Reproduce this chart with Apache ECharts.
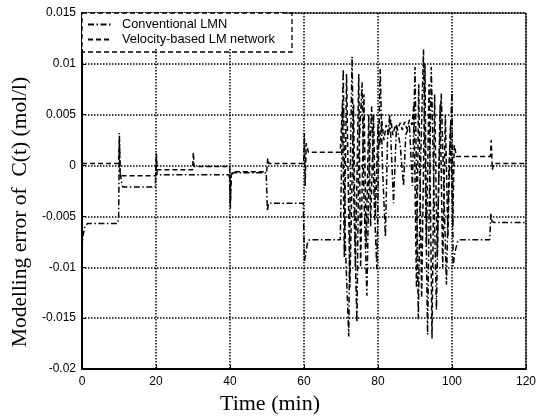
<!DOCTYPE html>
<html><head><meta charset="utf-8">
<script src="https://cdn.jsdelivr.net/npm/echarts@6/dist/echarts.min.js"></script>
<style>html,body{margin:0;padding:0;background:#fff}#c{width:539px;height:419px}</style>
</head><body><div id="c"></div>
<script>
const xTicks = [0, 20, 40, 60, 80, 100, 120];
const yTicks = [-0.02, -0.015, -0.01, -0.005, 0, 0.005, 0.01, 0.015];
const seriesNames = ['Conventional LMN', 'Velocity-based LM network'];
const xTitle = 'Time (min)';
const yTitle = 'Modelling error of  C(t) (mol/l)';

// Conventional LMN (dash-dot)
const convT = [0,0.3,0.8,1.5,9.6,9.9,10,10.1,10.3,10.6,11,19.8,20,20.1,20.3,39.8,40,40.1,40.3,40.8,49.8,50,50.1,50.4,59.8,60,60.1,60.4,61,61.5,69.8,
  70.2,70.6,71.2,72.1,72.6,73,73.5,74.3,74.8,75.7,76.2,77,77.6,78.3,79,79.7,80.2,80.6,81.2,82,82.6,83.2,84.2,85,86,86.9,87.5,88.5,89.3,
  90,90.9,91.5,92.3,93.4,94,94.4,95.8,96.5,97.1,98.5,99.2,100,100.3,100.8,101.5,102,110.2,110.5,110.8,111.5,120];
const convE = [-0.0082,-0.0068,-0.006,-0.0057,-0.0057,-0.0052,-0.0052,0.0032,-0.0005,-0.0015,-0.0021,-0.0021,-0.0021,0.0008,-0.0009,-0.0009,-0.0009,-0.0038,-0.0012,-0.0007,-0.0007,-0.0007,-0.0045,-0.0037,-0.0037,-0.0037,-0.0094,-0.0088,-0.0075,-0.0073,-0.0073,
  -0.0073,0.0095,-0.008,-0.0168,0.002,0.0107,-0.004,-0.0154,0.001,0.0082,-0.003,-0.0128,0.0,0.0058,-0.004,-0.0102,0.002,0.0095,0.0,-0.007,0.003,0.005,-0.0037,0.004,0.002,-0.002,0.003,0.004,-0.002,
  0.0097,-0.0151,0.0,0.0114,-0.0166,0.0,0.0097,-0.0142,0.0,0.0071,-0.0117,0.0,0.0073,-0.0099,-0.0085,-0.0075,-0.0073,-0.0073,-0.0047,-0.0055,-0.0056,-0.0056];

// Velocity-based LM network (dashed)
const velT = [0,9.9,10,10.1,10.3,10.8,19.9,20,20.1,20.3,29.9,30,30.1,30.3,39.9,40,40.1,40.3,40.8,49.9,50,50.2,50.5,59.9,60,60.1,60.3,60.6,61.2,69.8,
  70,70.4,70.9,71.5,72.4,73.4,73.9,74.8,75.3,76.2,76.8,77.5,78,78.8,79.3,80,80.5,81,81.6,82.2,82.8,83.5,84,84.7,85.3,86,86.6,87.2,87.8,88.5,89.2,
  89.7,90.4,91,91.8,92.7,93.1,93.8,94.6,95.3,96,96.8,97.5,98.2,98.9,99.6,100.2,100.6,101.2,110.4,110.6,110.9,111.3,120];
const velE = [0.0002,0.0002,0.0002,0.0025,-0.0008,-0.001,-0.001,-0.001,0.0012,-0.0004,-0.0004,-0.0004,0.0013,-0.0001,-0.0001,-0.0001,-0.0042,-0.0009,-0.0006,-0.0006,-0.0006,0.0007,0.0002,0.0002,0.0002,0.0032,-0.002,0.0022,0.0013,0.0013,
  0.0013,0.006,-0.009,0.009,-0.012,0.006,-0.01,0.009,-0.01,0.007,-0.008,0.005,-0.006,0.005,-0.005,0.004,0.002,0.0045,0.0025,0.004,0.003,0.0045,0.003,0.004,0.0035,0.0042,0.0035,0.0043,0.0036,0.0045,0.004,
  0.006,-0.012,0.008,-0.013,0.01,-0.008,0.008,-0.017,0.007,-0.009,0.006,-0.01,0.005,-0.007,0.004,-0.006,0.002,0.0009,0.0009,0.0025,-0.0004,0.0002,0.0002];

const zip = (a, b) => a.map((t, i) => [t, b[i]]);
const chart = echarts.init(document.getElementById('c'), null, {renderer: 'canvas'});
const tickFont = {fontFamily: 'Liberation Sans, Arial', fontSize: 12, color: '#000'};
const gridLine = {show: true, lineStyle: {color: '#000', type: [1.5, 1.5], width: 1.5}};
chart.setOption({
  animation: false,
  backgroundColor: '#fff',
  grid: {left: 82, right: 11, top: 13, bottom: 50, show: true, borderColor: '#000', borderWidth: 1, backgroundColor: 'transparent'},
  xAxis: {
    type: 'value', min: xTicks[0], max: xTicks[xTicks.length - 1], interval: xTicks[1] - xTicks[0],
    axisLine: {show: true, onZero: false, lineStyle: {color: '#000', width: 2}},
    axisTick: {show: true, inside: true, length: 4, lineStyle: {color: '#000'}},
    axisLabel: Object.assign({margin: 7}, tickFont),
    splitLine: gridLine
  },
  yAxis: {
    type: 'value', min: yTicks[0], max: yTicks[yTicks.length - 1], interval: 0.005,
    axisLine: {show: true, onZero: false, lineStyle: {color: '#000', width: 2}},
    axisTick: {show: true, inside: true, length: 4, lineStyle: {color: '#000'}},
    axisLabel: Object.assign({margin: 6, formatter: v => String(Math.round(v * 1000) / 1000)}, tickFont),
    splitLine: gridLine
  },
  legend: {
    orient: 'vertical', left: 82, top: 13, z: 20,
    padding: [5, 12, 3, 5], itemGap: 2, itemWidth: 23, itemHeight: 14,
    backgroundColor: '#fff',
    itemStyle: {opacity: 0},
    textStyle: {fontFamily: 'Liberation Sans, Arial', fontSize: 12.8, color: '#000', padding: [0, 0, 0, 6]},
    data: seriesNames
  },
  graphic: [
    {type: 'rect', z: 30, shape: {x: 82, y: 13, width: 210, height: 39},
     style: {fill: 'none', stroke: '#000', lineWidth: 1.3, lineDash: [5, 3]}},
    {type: 'text', z: 30, x: 270, y: 404,
     style: {text: xTitle, font: '22px "Liberation Serif", "Times New Roman"', fill: '#000', textAlign: 'center', textVerticalAlign: 'middle'}},
    {type: 'text', z: 30, x: 20, y: 212, rotation: Math.PI / 2,
     style: {text: yTitle, font: '21.5px "Liberation Serif", "Times New Roman"', fill: '#000', textAlign: 'center', textVerticalAlign: 'middle'}}
  ],
  series: [
    {name: seriesNames[0], type: 'line', data: zip(convT, convE), showSymbol: false, symbol: 'none',
     lineStyle: {color: '#000', width: 1.5, type: [6, 2.5, 1.5, 2.5]}, itemStyle: {color: '#000'}, z: 3},
    {name: seriesNames[1], type: 'line', data: zip(velT, velE), showSymbol: false, symbol: 'none',
     lineStyle: {color: '#000', width: 1.5, type: [5, 3]}, itemStyle: {color: '#000'}, z: 3}
  ]
});
</script></body></html>
